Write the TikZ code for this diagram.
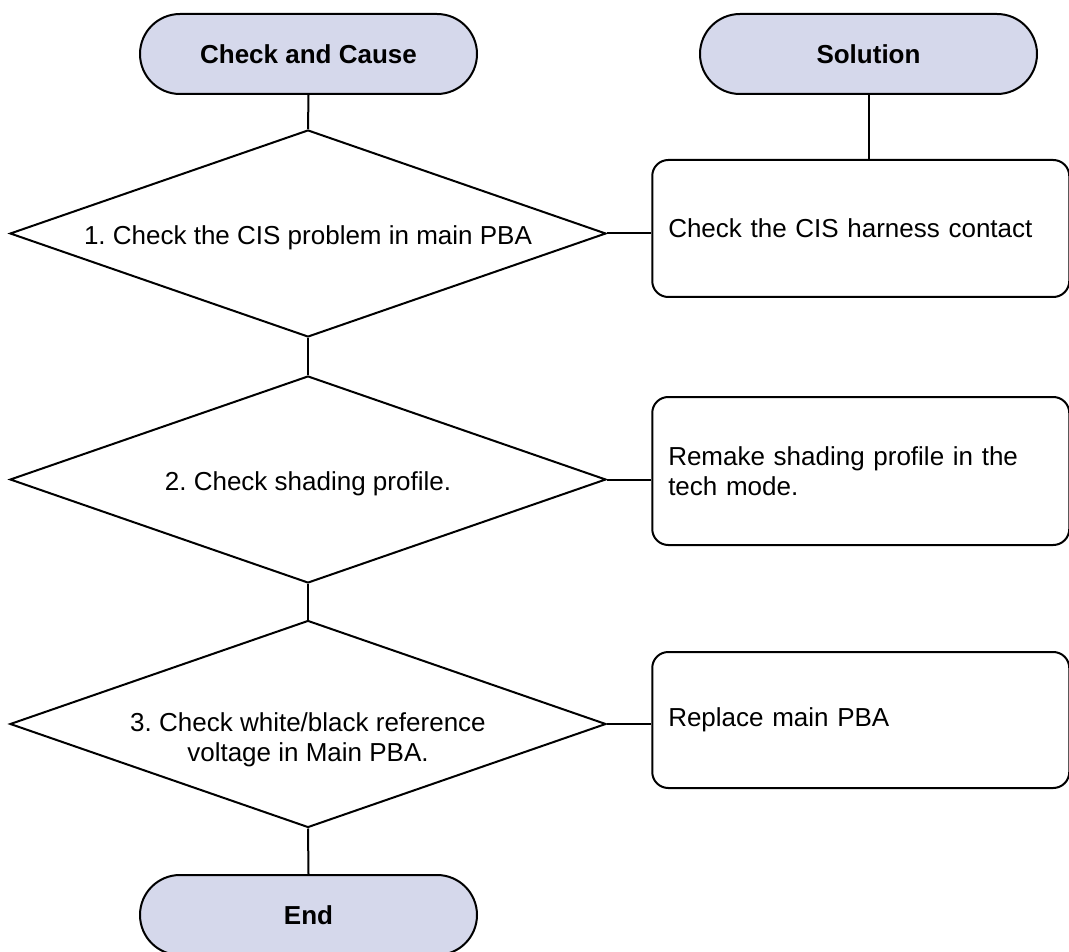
\documentclass[tikz,border=0pt]{standalone}
\usepackage{fontspec}
\setmainfont{Liberation Sans}
\frenchspacing
\usetikzlibrary{shapes.geometric}
\definecolor{termfill}{RGB}{213,216,235}
\tikzset{
  every node/.style={font=\fontsize{26}{30}\selectfont},
  term/.style={draw, line width=2pt, fill=termfill, rounded corners=40pt,
    minimum width=337pt, minimum height=80pt, inner sep=0pt,
    font=\fontsize{26}{30}\selectfont\bfseries},
  decide/.style={draw, line width=2pt, diamond, aspect=2.87,
    minimum width=596pt, minimum height=207pt, inner sep=0pt},
  dtext/.style={align=center, inner sep=0pt},
  solbox/.style={draw, line width=2pt, rounded corners=16pt,
    minimum width=417pt, text width=385pt, align=left, inner xsep=16pt, inner ysep=0pt},
  link/.style={line width=2pt}
}
\begin{document}
\frenchspacing
\begin{tikzpicture}[x=1pt,y=-1pt]
\useasboundingbox (0,0) rectangle (1069,952);
\node[term] (cc) at (308.5,54) {Check and Cause};
\node[term] (sol) at (868.5,54) {Solution};
\node[term] (end) at (308.5,915) {End};

\node[decide] (d1) at (308,233.5) {};
\node[decide] (d2) at (308,479.5) {};
\node[decide] (d3) at (308,724) {};
\node[dtext, anchor=base] (t1) at (308,245) {1. Check the CIS problem in main PBA};
\node[dtext, anchor=base] (t2) at (308,490) {2. Check shading profile.};
\node[dtext] (t3) at (308,740) {3. Check white/black reference\\voltage in Main PBA.};

\node[solbox, minimum height=137pt] (b1) at (860.75,228.5) {Check the CIS harness contact};
\node[solbox, minimum height=148pt] (b2) at (860.75,471) {Remake shading profile in the\\tech mode.};
\node[solbox, minimum height=136pt] (b3) at (860.75,720) {Replace main PBA};

\draw[link] (cc.south) -- (d1.north);
\draw[link] (d1.south) -- (d2.north);
\draw[link] (d2.south) -- (d3.north);
\draw[link] (d3.south) -- (end.north);
\draw[link] (sol.south) -- (sol.south |- b1.north);
\draw[link] (d1.east) -- (d1.east -| b1.west);
\draw[link] (d2.east) -- (d2.east -| b2.west);
\draw[link] (d3.east) -- (d3.east -| b3.west);
\end{tikzpicture}
\end{document}
